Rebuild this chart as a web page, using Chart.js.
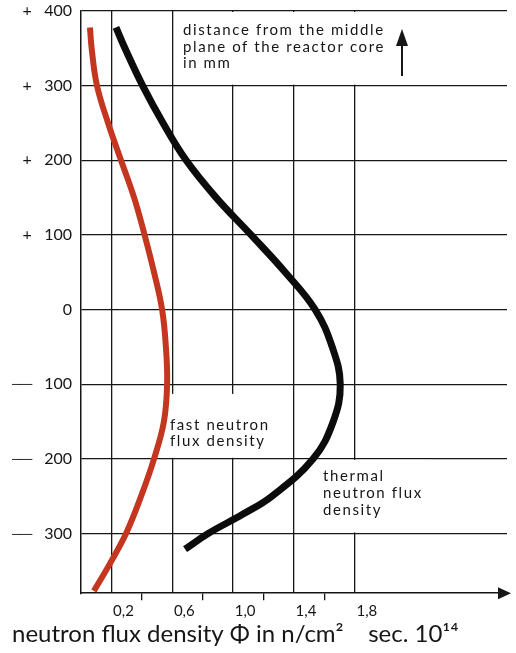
<!DOCTYPE html>
<html>
<head>
<meta charset="utf-8">
<script src="https://cdn.jsdelivr.net/npm/chart.js@4.4.1/dist/chart.umd.min.js"></script>
<style>
  html, body { margin: 0; padding: 0; background: #ffffff; }
  #wrap { width: 516px; height: 653px; position: relative; }
</style>
</head>
<body>
<div id="wrap"><canvas id="c" width="516" height="653"></canvas></div>
<script>
// Distance from the middle plane of the reactor core (mm) and flux density (n/cm² sec · 10^14)
const fastPos   = [378, 350, 300, 250, 200, 150, 100, 50, 0, -50, -100, -150, -200, -250, -300, -340, -377];
const fastFlux  = [0.059, 0.07, 0.105, 0.178, 0.263, 0.349, 0.418, 0.48, 0.533, 0.558, 0.566, 0.545, 0.48, 0.395, 0.296, 0.191, 0.085];

const thermalPos  = [378, 350, 300, 250, 200, 150, 100, 50, 0, -50, -100, -150, -200, -250, -275, -300, -321];
const thermalFlux = [0.230, 0.289, 0.405, 0.539, 0.691, 0.888, 1.118, 1.342, 1.539, 1.651, 1.704, 1.658, 1.526, 1.255, 1.057, 0.836, 0.684];

const yTickValues = [400, 300, 200, 100, 0, -100, -200, -300];
const xTickValues = [0.2, 0.4, 0.6, 0.8, 1.0, 1.2, 1.4, 1.6, 1.8];
const xTickLabels = ['0,2', '', '0,6', '', '1,0', '', '1,4', '', '1,8'];

const axisTitle = 'neutron flux density \u03A6 in n/cm\u00B2    sec. 10\u00B9\u2074';
const noteTop = ['distance from the middle', 'plane of the reactor core', 'in mm'];
const noteFast = ['fast neutron', 'flux density'];
const noteThermal = ['thermal', 'neutron flux', 'density'];

const INK = '#161616';
const RED = '#c4361f';
const FONT = 'Lato, "Open Sans", sans-serif';

function toPoints(xs, ys) { return xs.map((x, i) => ({ x: x, y: ys[i] })); }
function labelIndex(v) { return xTickValues.findIndex(t => Math.abs(t - v) < 1e-6); }

const annotations = {
  id: 'annotations',
  beforeDatasetsDraw(chart) {
    const ctx = chart.ctx;
    const xs = chart.scales.x, ys = chart.scales.y;
    const area = chart.chartArea;
    ctx.save();
    // white label boxes hiding the grid behind the notes
    ctx.fillStyle = '#ffffff';
    const boxes = [
      [xs.getPixelForValue(0.62), ys.getPixelForValue(400) + 1, area.right, ys.getPixelForValue(300) - 1],
      [xs.getPixelForValue(0.58), ys.getPixelForValue(-113), xs.getPixelForValue(1.3), ys.getPixelForValue(-200) - 1],
      [xs.getPixelForValue(1.45), ys.getPixelForValue(-200) + 1, xs.getPixelForValue(2.3), ys.getPixelForValue(-300) - 1]
    ];
    boxes.forEach(b => ctx.fillRect(b[0], b[1], b[2] - b[0], b[3] - b[1]));

    ctx.fillStyle = INK;
    ctx.font = '15px ' + FONT;
    ctx.textBaseline = 'alphabetic';
    ctx.textAlign = 'left';
    try { ctx.letterSpacing = '1.6px'; } catch (e) {}
    const drawLines = (lines, x, y0, lh) => lines.forEach((t, i) => ctx.fillText(t, x, y0 + i * lh));
    drawLines(noteTop, 183, 35, 16.5);
    drawLines(noteFast, 170, 430, 16);
    drawLines(noteThermal, 323, 481, 17);
    try { ctx.letterSpacing = '0px'; } catch (e) {}

    // upward arrow next to the top note
    ctx.strokeStyle = INK; ctx.lineWidth = 2;
    ctx.beginPath(); ctx.moveTo(402, 76); ctx.lineTo(402, 44); ctx.stroke();
    ctx.beginPath(); ctx.moveTo(402, 29); ctx.lineTo(396, 46); ctx.lineTo(408, 46); ctx.closePath(); ctx.fill();
    ctx.restore();
  },
  afterDraw(chart) {
    const ctx = chart.ctx;
    const area = chart.chartArea;
    ctx.save();
    ctx.fillStyle = INK;
    ctx.beginPath();
    ctx.moveTo(area.right - 9, area.bottom - 6);
    ctx.lineTo(area.right + 4, area.bottom);
    ctx.lineTo(area.right - 9, area.bottom + 6);
    ctx.closePath();
    ctx.fill();
    ctx.restore();
  }
};

new Chart(document.getElementById('c'), {
  type: 'scatter',
  data: {
    datasets: [
      { label: 'fast neutron flux density', data: toPoints(fastFlux, fastPos), showLine: true,
        borderColor: RED, borderWidth: 6, pointRadius: 0, tension: 0.4, fill: false },
      { label: 'thermal neutron flux density', data: toPoints(thermalFlux, thermalPos), showLine: true,
        borderColor: '#0c0c0c', borderWidth: 7, pointRadius: 0, tension: 0.4, fill: false }
    ]
  },
  options: {
    responsive: false,
    animation: false,
    layout: { padding: { top: 11, left: 12, right: 9, bottom: 0 } },
    plugins: {
      legend: { display: false },
      tooltip: { enabled: false },
      title: {
        display: true, text: axisTitle, position: 'bottom', align: 'start',
        color: INK, font: { family: FONT, size: 24, weight: 'normal' },
        padding: { top: 2, bottom: 4 }
      }
    },
    scales: {
      x: {
        type: 'linear', min: 0, max: 2.8,
        afterBuildTicks: s => { s.ticks = xTickValues.map(v => ({ value: v })); },
        afterFit: s => { s.height = 25; },
        border: { display: true, color: INK, width: 1.5 },
        grid: {
          color: c => (c.tick && labelIndex(c.tick.value) % 2 === 0) ? INK : 'rgba(0,0,0,0)',
          tickColor: c => (c.tick && labelIndex(c.tick.value) % 2 === 1) ? INK : 'rgba(0,0,0,0)',
          lineWidth: 1.3, drawTicks: true, tickLength: 7
        },
        ticks: {
          autoSkip: false, maxRotation: 0, padding: 2, labelOffset: 12,
          color: INK, font: { family: FONT, size: 15 },
          callback: v => { const i = labelIndex(v); return i >= 0 ? xTickLabels[i] : ''; }
        }
      },
      y: {
        type: 'linear', min: -380, max: 400,
        afterBuildTicks: s => { s.ticks = yTickValues.map(v => ({ value: v })); },
        afterFit: s => { s.width = 69; s.paddingTop = 0; s.paddingBottom = 0; },
        border: { display: true, color: INK, width: 1.5 },
        grid: { color: INK, lineWidth: 1.3, drawTicks: false },
        ticks: {
          autoSkip: false, padding: 9, color: INK, font: { family: FONT, size: 16 },
          callback: v => v > 0 ? '+   ' + v : (v < 0 ? '\u2500\u2500   ' + (-v) : '0')
        }
      }
    }
  },
  plugins: [annotations]
});
</script>
</body>
</html>
